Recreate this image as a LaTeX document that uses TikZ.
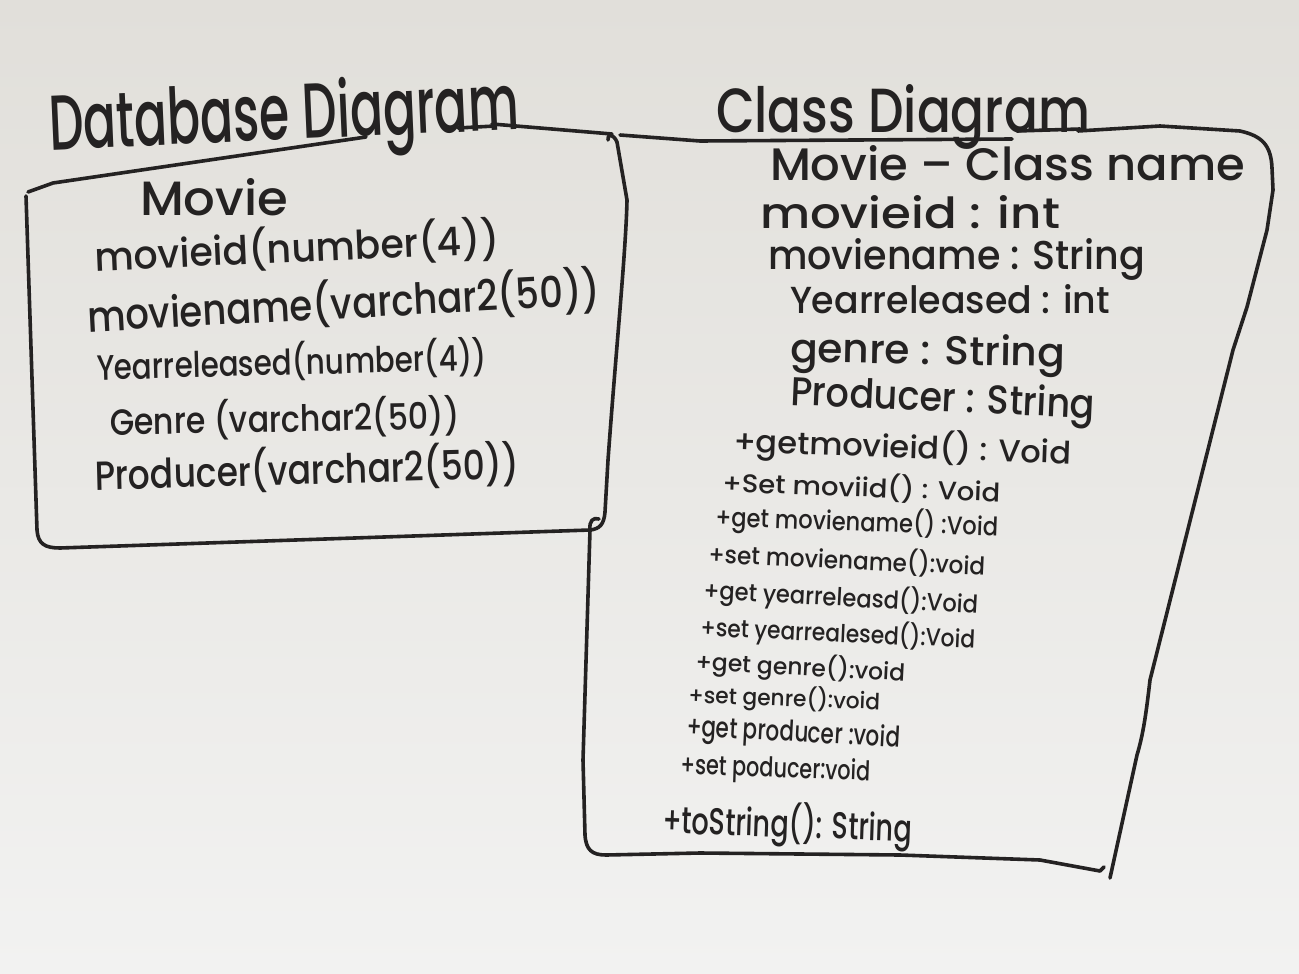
\documentclass[tikz,border=0pt]{standalone}
\usepackage{fontspec}
\setmainfont{Poppins}[UprightFont=* Medium]
\usepackage{graphicx}
\definecolor{ink}{RGB}{36,34,34}
\definecolor{boardtop}{RGB}{225,223,218}
\definecolor{boardbot}{RGB}{242,242,241}
\newcommand{\hw}[3]{\resizebox{#1pt}{#2pt}{#3}}
\begin{document}
\begin{tikzpicture}[x=1pt,y=-1pt,
  hand/.style={anchor=base west, inner sep=0pt, outer sep=0pt, text=ink},
  pen/.style={draw=ink, line width=3.6pt, line cap=round, line join=round}]
\useasboundingbox (0,0) rectangle (1299,974);
\shade[top color=boardtop, bottom color=boardbot] (0,0) rectangle (1299,974);

% ---------- titles ----------
\node[hand, rotate=2.5] (dbtitle) at (50,150) {\hw{470}{60}{Database Diagram}};
\node[hand] (cltitle) at (716,132) {\hw{374}{48}{Class Diagram}};

% ---------- left box (database) ----------
\draw[pen] (366,137) -- (53,183) -- (28,192);
\draw[pen] (26,196) -- (37,530) .. controls (38,544) and (45,548) .. (60,548)
   -- (590,530) .. controls (600,529) and (604,524) .. (605,512)
   -- (608,460) .. controls (616,350) and (626,250) .. (627,200) -- (617,142);
\draw[pen] (617,142) .. controls (613,133) and (607,134) .. (608,140);
\draw[pen] (458,128) -- (495,126);
\draw[pen] (492,124) -- (612,134);

% ---------- right box (class) ----------
\draw[pen] (620,135) -- (700,141) -- (1012,139);
\draw[pen] (1017,131) -- (1080,129);
\draw[pen] (1078,131) -- (1160,126) -- (1240,131)
   .. controls (1262,136) and (1271,145) .. (1272,168)
   -- (1273,190) -- (1267,230) -- (1247,307) -- (1233,350) -- (1150,680)
   .. controls (1146,715) and (1143,735) .. (1137,755) -- (1110,878);
\draw[pen] (599,519) .. controls (593,517) and (589,521) .. (590,530)
   -- (583,760) -- (585,835) .. controls (586,850) and (592,855) .. (606,855)
   -- (700,853) -- (900,855) -- (1040,860) -- (1100,871) -- (1104,867);

% ---------- database content ----------
\node[hand] (dbmovie) at (140,215) {\hw{148}{37}{Movie}};
\node[hand, rotate=2.5] (dbid) at (95,271) {\hw{405}{37}{movieid(number(4))}};
\node[hand, rotate=3] (dbname) at (88,332) {\hw{513}{40}{moviename(varchar2(50))}};
\node[hand, rotate=1.5] (dbyear) at (97,380) {\hw{390}{33}{Yearreleased(number(4))}};
\node[hand, rotate=1] (dbgenre) at (110,435) {\hw{350}{34}{Genre (varchar2(50))}};
\node[hand, rotate=1.5] (dbprod) at (95,490) {\hw{425}{38}{Producer(varchar2(50))}};

% ---------- class content ----------
\node[hand] (clname) at (770,180) {\hw{475}{35}{Movie – Class name}};
\node[hand] (clid) at (760,228) {\hw{300}{33}{movieid : int}};
\node[hand] (clmname) at (768,269) {\hw{377}{31}{moviename : String}};
\node[hand] (clyear) at (790,313) {\hw{320}{29}{Yearreleased : int}};
\node[hand, rotate=-1] (clgenre) at (790,362) {\hw{275}{31}{genre : String}};
\node[hand, rotate=-2.5] (clprod) at (790,405) {\hw{305}{31}{Producer : String}};
\node[hand, rotate=-2] (m1) at (733,452) {\hw{338}{29}{+getmovieid() : Void}};
\node[hand, rotate=-2] (m2) at (722,492) {\hw{278}{24}{+Set moviid() : Void}};
\node[hand, rotate=-2] (m3) at (715,526) {\hw{283}{24}{+get moviename() :Void}};
\node[hand, rotate=-2.5] (m4) at (708,563) {\hw{277}{23}{+set moviename():void}};
\node[hand, rotate=-3] (m5) at (703,599) {\hw{275}{23}{+get yearreleasd():Void}};
\node[hand, rotate=-2.5] (m6) at (700,636) {\hw{275}{23}{+set yearrealesed():Void}};
\node[hand, rotate=-3] (m7) at (695,670) {\hw{210}{22}{+get genre():void}};
\node[hand, rotate=-2] (m8) at (688,703) {\hw{192}{21}{+set genre():void}};
\node[hand, rotate=-3] (m9) at (686,736) {\hw{214}{22}{+get producer :void}};
\node[hand, rotate=-2] (m10) at (680,774) {\hw{190}{21}{+set poducer:void}};
\node[hand, rotate=-2] (m11) at (662,833) {\hw{250}{35}{+toString(): String}};
\end{tikzpicture}
\end{document}
